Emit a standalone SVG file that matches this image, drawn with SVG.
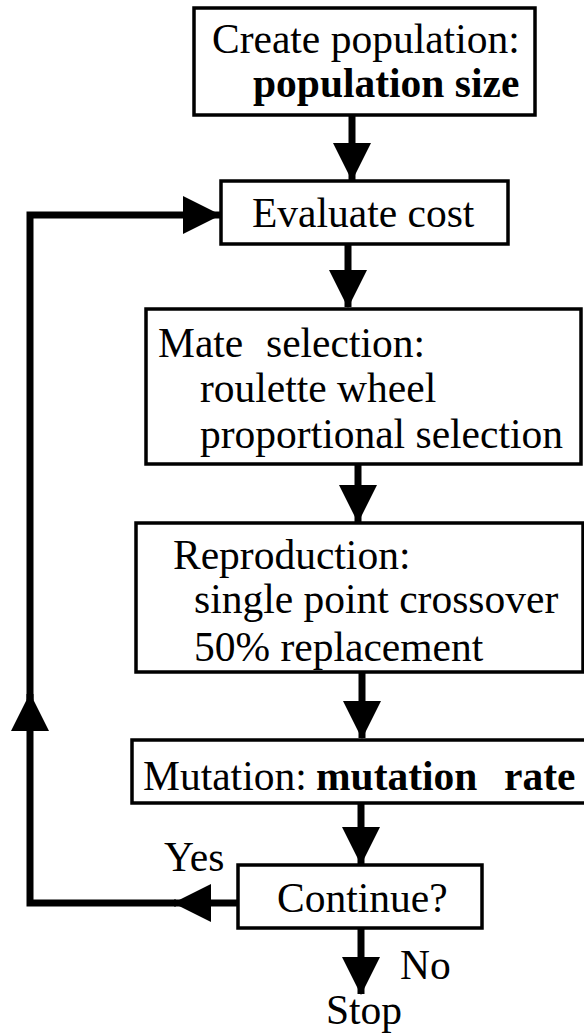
<svg xmlns="http://www.w3.org/2000/svg" width="584" height="1034" viewBox="0 0 584 1034">
<style>
.box{fill:#fff;stroke:#000;stroke-width:3.5}
.t{font-family:"Liberation Serif","Times New Roman",serif;font-size:41.5px;fill:#000}
.b{font-weight:bold}
.c{fill:none;stroke:#000;stroke-width:7;stroke-linejoin:miter}
</style>
<defs>
<marker id="ah" markerUnits="userSpaceOnUse" markerWidth="38" markerHeight="38" viewBox="0 0 38 38" refX="37" refY="19" orient="auto">
<path d="M0,0 L38,19 L0,38 z" fill="#000"/>
</marker>
</defs>
<rect width="584" height="1034" fill="#fff"/>
<g id="connectors">
<line class="c" x1="352" y1="115" x2="352" y2="180" marker-end="url(#ah)"/>
<line class="c" x1="348" y1="245" x2="348" y2="307" marker-end="url(#ah)"/>
<line class="c" x1="358" y1="464" x2="358" y2="522" marker-end="url(#ah)"/>
<line class="c" x1="362" y1="672" x2="362" y2="738" marker-end="url(#ah)"/>
<line class="c" x1="361" y1="803" x2="361" y2="864" marker-end="url(#ah)"/>
<line class="c" x1="361" y1="928" x2="361" y2="994" marker-end="url(#ah)"/>
<line class="c" x1="238" y1="903" x2="174" y2="903" marker-end="url(#ah)"/>
<path class="c" d="M176,903 H30 V694" marker-end="url(#ah)"/>
<path class="c" d="M30,700 V215 H220" marker-end="url(#ah)"/>
</g>
<g id="create">
<rect class="box" x="194" y="8" width="341" height="107"/>
<text class="t" x="212" y="53">Create population:</text>
<text class="t b" x="253" y="97">population size</text>
</g>
<g id="evaluate">
<rect class="box" x="221" y="181" width="287" height="63"/>
<text class="t" x="252" y="227">Evaluate cost</text>
</g>
<g id="mate">
<rect class="box" x="146" y="309" width="435" height="155"/>
<text class="t" y="357"><tspan x="158">Mate</tspan><tspan x="266">selection:</tspan></text>
<text class="t" x="200" y="402">roulette wheel</text>
<text class="t" x="200" y="448">proportional selection</text>
</g>
<g id="reproduction">
<rect class="box" x="136" y="523" width="447" height="149"/>
<text class="t" x="173" y="569">Reproduction:</text>
<text class="t" x="194" y="613">single point crossover</text>
<text class="t" x="194" y="661">50% replacement</text>
</g>
<g id="mutation">
<rect class="box" x="132" y="740" width="470" height="63"/>
<text class="t" y="790"><tspan x="143">Mutation: </tspan><tspan class="b" x="316">mutation</tspan><tspan class="b" x="504">rate</tspan></text>
</g>
<g id="continue">
<rect class="box" x="238" y="865" width="244" height="63"/>
<text class="t" x="277" y="912">Continue?</text>
</g>
<g id="labels">
<text class="t" x="164" y="871">Yes</text>
<text class="t" x="400" y="979">No</text>
<text class="t" x="326" y="1024">Stop</text>
</g>
</svg>
